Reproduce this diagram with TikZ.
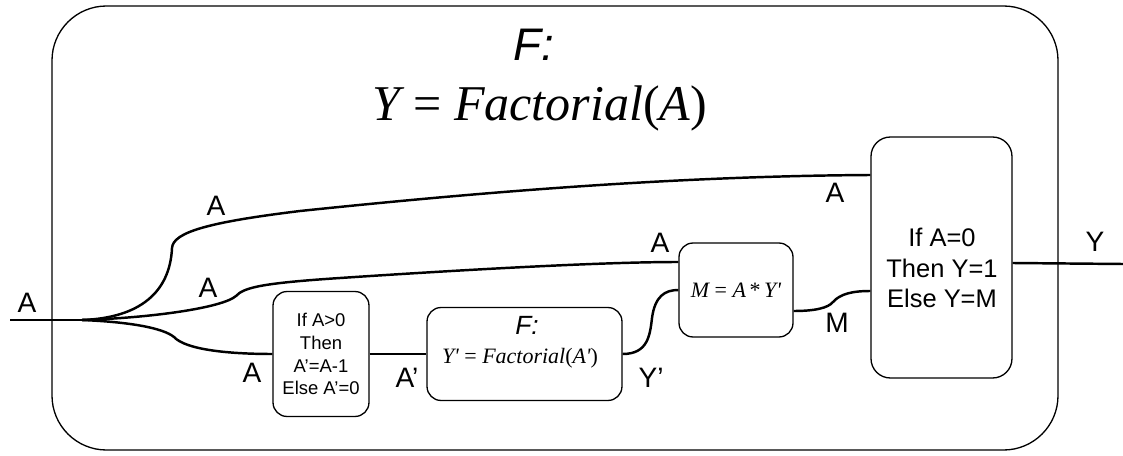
\documentclass[tikz,border=0pt]{standalone}
\usepackage{fontspec}
\setmainfont{Liberation Sans}
\newfontfamily\tms{Liberation Serif}
\newcommand{\pr}{\symbol{39}}
\tikzset{
  wire/.style={line width=1.4pt},
  blk/.style={draw,line width=0.75pt,rounded corners=8pt,inner sep=0pt},
  lbl/.style={font=\fontsize{16}{18}\selectfont},
}

\begin{document}
\begin{tikzpicture}[x=0.02cm,y=-0.02cm]
  \useasboundingbox (0,0) rectangle (1123,456);
  \draw[line width=0.75pt,rounded corners=31pt] (52,6) rectangle (1058,450);
  \node[font=\fontsize{26}{30}\selectfont\itshape] (ttl) at (534,45) {F:};
  \node[font=\fontsize{28.5}{32}\selectfont\tms] (fml) at (540,108)
    {\itshape Y \upshape= \itshape Factorial\upshape(\itshape A\upshape)};

  % blocks
  \node[blk,align=center,minimum width=1.92cm,minimum height=2.5cm,
        font=\fontsize{10.5}{13}\selectfont] (test) at (321,354)
    {If A>0\\Then\\A’=A-1\\Else A’=0};
  \node[blk,minimum width=3.9cm,minimum height=1.86cm] (frec) at (524.5,354) {};
  \node[font=\fontsize{15}{16}\selectfont\itshape] (frecname) at (527,325) {F:};
  \node[font=\fontsize{12.5}{14}\selectfont\tms] (frecfml) at (520,358)
    {\itshape Y\pr\ \upshape= \itshape Factorial\upshape(\itshape A\pr\upshape)};
  \node[blk,minimum width=2.28cm,minimum height=1.88cm,
        font=\fontsize{12.5}{14}\selectfont\tms] (prod) at (736,290)
    {\itshape M \upshape= \itshape A\upshape\,*\,\itshape Y\pr};
  \node[blk,rounded corners=11pt,minimum width=2.82cm,minimum height=4.82cm] (cond) at (941.5,257.5) {};
  \node[align=center,font=\fontsize{14.5}{17.5}\selectfont] (condtxt) at (942,268)
    {If A=0\\Then Y=1\\Else Y=M};

  % wires
  \coordinate (in) at (10,320);
  \coordinate (fork) at (82,320);
  \coordinate (out) at (1123,264);
  \draw[wire] (in) -- (fork);
  \draw[wire] (fork) .. controls (140,318) and (170,292) .. (172,248)
    .. controls (173,232) and (210,222) .. (300,211)
    .. controls (520,188) and (700,176) .. (cond.west |- 0,175);
  \draw[wire] (fork) .. controls (150,318) and (222,308) .. (236,296)
    .. controls (244,287) and (265,283) .. (340,278)
    .. controls (460,270) and (600,262) .. (prod.west |- 0,262);
  \draw[wire] (fork) .. controls (130,322) and (163,328) .. (174,337)
    .. controls (186,350) and (230,354) .. (test.west);
  \draw[wire] (test.east) -- (frec.west);
  \draw[wire] (frec.east) .. controls (648,354) and (650,335) .. (652,318)
    .. controls (655,296) and (665,290) .. (prod.west);
  \draw[wire] (prod.east |- 0,311) .. controls (815,311) and (828,308) .. (833,302)
    .. controls (840,294) and (852,291) .. (cond.west |- 0,291);
  \draw[wire] (cond.east |- 0,263) -- (out);

  % labels
  \node[lbl] (lin) at (27,303) {A};
  \node[lbl] (ltop) at (216,206) {A};
  \node[lbl] (lmid) at (208,288) {A};
  \node[lbl] (llow) at (252,373) {A};
  \node[lbl] (lcond) at (835,193) {A};
  \node[lbl] (lprod) at (660,243) {A};
  \node[lbl] (lrec) at (407,378) {A’};
  \node[lbl] (lyp) at (651,378) {Y’};
  \node[lbl] (lm) at (837,323) {M};
  \node[lbl] (ly) at (1095,242) {Y};
\end{tikzpicture}
\end{document}
